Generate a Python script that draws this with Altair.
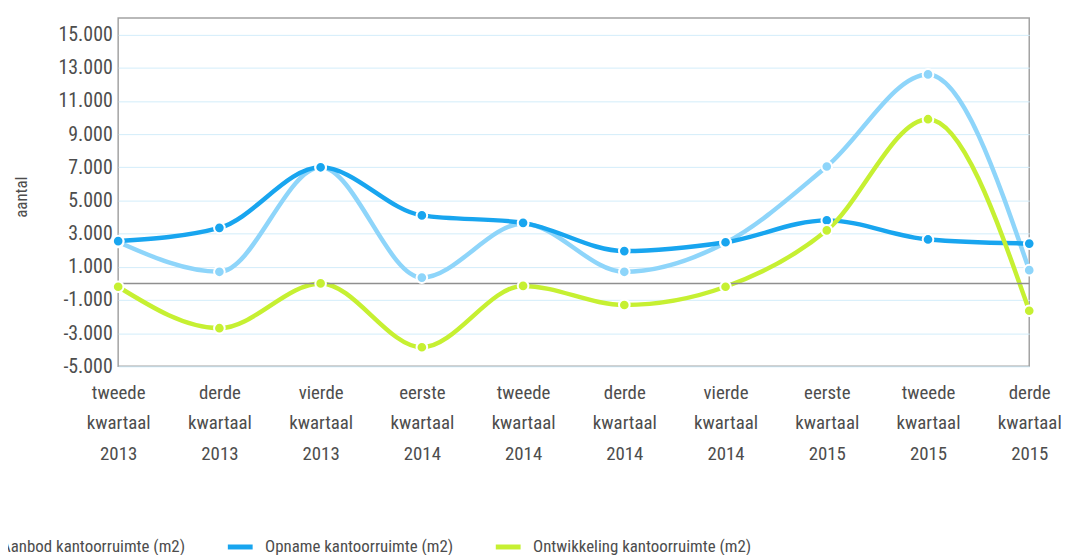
import altair as alt
import pandas as pd

categories = [
    "tweede kwartaal 2013", "derde kwartaal 2013", "vierde kwartaal 2013",
    "eerste kwartaal 2014", "tweede kwartaal 2014", "derde kwartaal 2014",
    "vierde kwartaal 2014", "eerste kwartaal 2015", "tweede kwartaal 2015",
    "derde kwartaal 2015",
]
series_names = ["Aanbod kantoorruimte (m2)", "Opname kantoorruimte (m2)", "Ontwikkeling kantoorruimte (m2)"]
aanbod = [2500, 700, 7000, 350, 3600, 700, 2450, 7050, 12600, 800]
opname = [2550, 3350, 7000, 4100, 3650, 1950, 2480, 3800, 2650, 2400]
ontwikkeling = [-200, -2700, 0, -3850, -150, -1300, -200, 3200, 9900, -1650]
colors = ["#8ed5fa", "#18a5ef", "#c6f032"]
y_ticks = list(range(-5000, 16001, 1000))
zero_value = [0]

rows = []
for name, vals in zip(series_names, [aanbod, opname, ontwikkeling]):
    for c, v in zip(categories, vals):
        rows.append({"kwartaal": c, "serie": name, "waarde": v})
df = pd.DataFrame(rows)

FONT = "'Liberation Sans Narrow', 'Roboto Condensed', 'DejaVu Sans Condensed', 'Liberation Sans', sans-serif"

x_enc = alt.X(
    "kwartaal:N", sort=categories, title=None,
    scale=alt.Scale(padding=0),
    axis=alt.Axis(
        labelAngle=0, labelExpr="split(datum.label, ' ')", labelLineHeight=31,
        labelFontSize=19, labelColor="#4d4d4d", labelPadding=17,
        ticks=False, domain=False, grid=False, labelBaseline="top",
    ),
)
y_enc = alt.Y(
    "waarde:Q", title="aantal",
    scale=alt.Scale(domain=[-5000, 16000], nice=False, zero=False),
    axis=alt.Axis(
        values=y_ticks, labelOverlap=False, tickCount=21,
        labelExpr="abs(datum.value) % 2000 == 1000 ? (datum.value < 0 ? '-' : '') + format(abs(datum.value) / 1000, 'd') + '.000' : ''",
        labelFontSize=20, labelColor="#4d4d4d", labelPadding=6,
        ticks=False, domain=False, grid=True, gridColor="#d3edfa", gridWidth=1,
        titleFontSize=17, titleColor="#4d4d4d", titleFontWeight="normal",
        titleX=-97, titleY=180, titleAngle=-90, titleAlign="center", titleBaseline="middle",
    ),
)
legend = alt.Legend(
    title=None, orient="none", legendX=-158, legendY=518, direction="horizontal",
    columns=3, symbolType="stroke", symbolSize=625, symbolStrokeWidth=5,
    labelFontSize=17, labelColor="#4d4d4d", labelOffset=10, columnPadding=32,
    labelLimit=0,
)
color_enc = alt.Color(
    "serie:N", sort=series_names,
    scale=alt.Scale(domain=series_names, range=colors),
    legend=legend,
)

base = alt.Chart(df)
lines = base.mark_line(interpolate="monotone", strokeWidth=4.5).encode(x=x_enc, y=y_enc, color=color_enc)
zero = alt.Chart(pd.DataFrame({"z": zero_value})).mark_rule(color="#8f8f8f", strokeWidth=1.5).encode(
    y=alt.datum(0)
)
points = base.mark_point(filled=True, size=115, stroke="white", strokeWidth=2, opacity=1).encode(
    x=x_enc, y=y_enc, color=color_enc
)

chart = alt.layer(lines, zero, points).properties(
    width=918, height=351,
    autosize=alt.AutoSizeParams(type="none"),
    padding={"left": 111, "top": 8, "right": 32, "bottom": 188},
).configure(font=FONT).configure_view(stroke="#a3a3a3", strokeWidth=1.5)

chart.save("out.html", embed_options={"renderer": "svg", "actions": False})
